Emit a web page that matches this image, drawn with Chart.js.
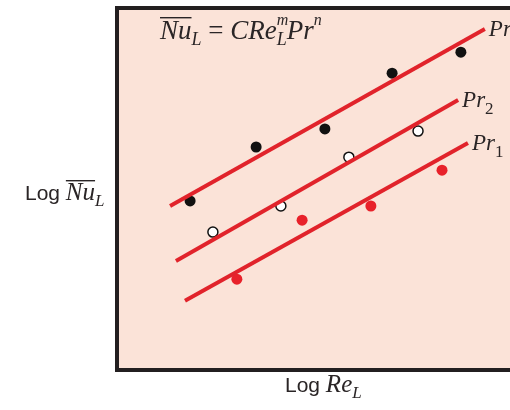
<!DOCTYPE html>
<html>
<head>
<meta charset="utf-8">
<script src="https://cdn.jsdelivr.net/npm/chart.js@4.4.0/dist/chart.umd.min.js"></script>
<style>
  html, body { margin: 0; padding: 0; background: #fff; overflow: hidden; }
  #wrap { width: 510px; height: 410px; }
</style>
</head>
<body>
<div id="wrap"><canvas id="chart" width="510" height="410"></canvas></div>
<script>
// values, arbitrary log units (x: 0..10, y: 0..10)
var lineNames = ['Pr', 'Pr', 'Pr'];
var lineSubs = ['3', '2', '1'];
var lineStartX = [1.35, 1.50, 1.73];
var lineStartY = [4.53, 3.01, 1.91];
var lineEndX = [9.36, 8.68, 8.93];
var lineEndY = [9.42, 7.46, 6.27];

var pr3X = [1.86, 3.54, 5.29, 7.00, 8.75];
var pr3Y = [4.67, 6.16, 6.66, 8.20, 8.78];
var pr2X = [2.44, 4.17, 5.90, 7.66];
var pr2Y = [3.81, 4.53, 5.88, 6.60];
var pr1X = [3.05, 4.71, 6.46, 8.27];
var pr1Y = [2.51, 4.14, 4.53, 5.52];

var serif = '"Liberation Serif", "DejaVu Serif", serif';
var sans = '"Liberation Sans Narrow", "Liberation Sans", Arial, sans-serif';

function pts(xs, ys) {
    return xs.map(function (x, i) { return { x: x, y: ys[i] }; });
}

var datasets = [];
for (var i = 0; i < lineNames.length; i++) {
    datasets.push({
        type: 'scatter',
        showLine: true,
        data: [{ x: lineStartX[i], y: lineStartY[i] }, { x: lineEndX[i], y: lineEndY[i] }],
        borderColor: '#e1232b',
        borderWidth: 4,
        pointRadius: 0
    });
}
datasets.push({ data: pts(pr3X, pr3Y), backgroundColor: '#111', borderColor: '#111', pointRadius: 5.5, borderWidth: 0 });
datasets.push({ data: pts(pr2X, pr2Y), backgroundColor: '#fff', borderColor: '#111', pointRadius: 5, borderWidth: 1.5 });
datasets.push({ data: pts(pr1X, pr1Y), backgroundColor: '#e8212a', borderColor: '#e8212a', pointRadius: 5.5, borderWidth: 0 });

// draw a run of text pieces: [text, font, dy, overline, noAdvance]
function rich(ctx, x, y, parts) {
    parts.forEach(function (p) {
        ctx.font = p[1];
        var w = ctx.measureText(p[0]).width;
        ctx.fillText(p[0], x, y + (p[2] || 0));
        if (p[3]) {
            ctx.fillRect(x, y - p[3], w, 1.4);
        }
        if (!p[4]) x += w;
    });
}

var decor = {
    id: 'decor',
    beforeDraw: function (chart) {
        var a = chart.chartArea, ctx = chart.ctx;
        ctx.save();
        ctx.fillStyle = '#fbe3d8';
        ctx.fillRect(a.left, a.top, chart.width - a.left, a.bottom - a.top);
        ctx.restore();
    },
    afterDraw: function (chart) {
        var a = chart.chartArea, ctx = chart.ctx;
        var xs = chart.scales.x, ys = chart.scales.y;
        ctx.save();
        // frame
        ctx.strokeStyle = '#231f20';
        ctx.lineWidth = 4;
        ctx.beginPath();
        ctx.moveTo(chart.width + 5, a.top);
        ctx.lineTo(a.left, a.top);
        ctx.lineTo(a.left, a.bottom);
        ctx.lineTo(chart.width + 5, a.bottom);
        ctx.stroke();

        ctx.fillStyle = '#2a2526';
        ctx.textBaseline = 'alphabetic';
        // line labels
        for (var i = 0; i < lineNames.length; i++) {
            var px = xs.getPixelForValue(lineEndX[i]) + 4;
            var py = ys.getPixelForValue(lineEndY[i]) + 7;
            rich(ctx, px, py, [
                [lineNames[i], 'italic 23px ' + serif, 0],
                [lineSubs[i], '17px ' + serif, 7]
            ]);
        }
        // formula
        rich(ctx, a.left + 43, 39, [
            ['Nu', 'italic 27px ' + serif, 0, 22],
            ['L', 'italic 18px ' + serif, 6],
            [' = ', '27px ' + serif, 0],
            ['CRe', 'italic 27px ' + serif, 0],
            ['m', 'italic 16px ' + serif, -14, 0, true],
            ['L', 'italic 18px ' + serif, 6],
            ['Pr', 'italic 27px ' + serif, 0],
            ['n', 'italic 16px ' + serif, -14]
        ]);
        // axis titles
        rich(ctx, 25, 200, [
            ['Log ', '21px ' + sans, 0],
            ['Nu', 'italic 25px ' + serif, 0, 20],
            ['L', 'italic 17px ' + serif, 6]
        ]);
        rich(ctx, 285, 392, [
            ['Log ', '21px ' + sans, 0],
            ['Re', 'italic 25px ' + serif, 0],
            ['L', 'italic 17px ' + serif, 6]
        ]);
        ctx.restore();
    }
};

new Chart(document.getElementById('chart').getContext('2d'), {
    type: 'scatter',
    data: { datasets: datasets },
    options: {
        responsive: false,
        animation: false,
        layout: { autoPadding: false, padding: { left: 117, top: 8, right: 0, bottom: 40 } },
        plugins: { legend: { display: false }, tooltip: { enabled: false } },
        scales: {
            x: { display: false, min: 0, max: 10 },
            y: { display: false, min: 0, max: 10 }
        }
    },
    plugins: [decor]
});
</script>
</body>
</html>
